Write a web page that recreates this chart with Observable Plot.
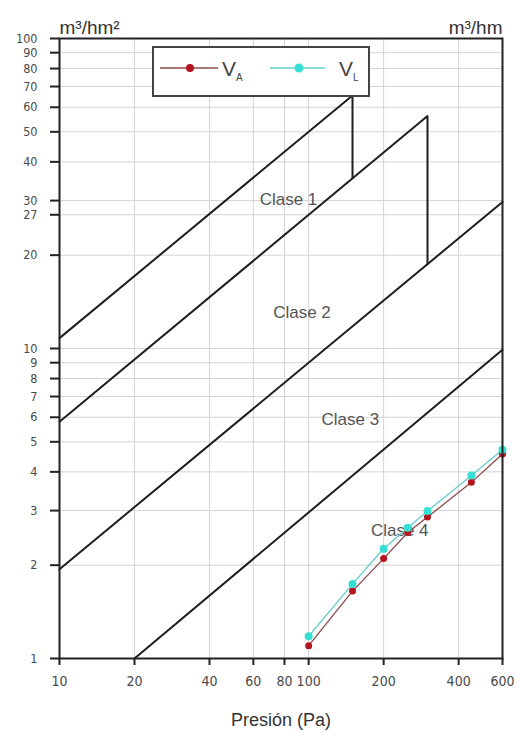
<!DOCTYPE html>
<html>
<head>
<meta charset="utf-8">
<script src="https://cdn.jsdelivr.net/npm/d3@7"></script>
<script src="https://cdn.jsdelivr.net/npm/@observablehq/plot@0.6"></script>
<style>
  html, body { margin: 0; padding: 0; background: #fff; }
  #wrap { position: relative; width: 516px; height: 733px; }
  #legend { position: absolute; left: 152px; top: 46px; }
</style>
</head>
<body>
<div id="wrap"></div>
<script>
// ---- data ----
const xTicks = [10, 20, 40, 60, 80, 100, 200, 400, 600];
const yTicks = [1, 2, 3, 4, 5, 6, 7, 8, 9, 10, 20, 27, 30, 40, 50, 60, 70, 80, 90, 100];

// class boundary lines (pressure Pa, m3/hm2)
const class1P = [10, 150, 150];
const class1V = [10.8, 65.5, 35.4];
const class2P = [10, 300, 300];
const class2V = [5.8, 56.2, 18.7];
const class3P = [10, 600];
const class3V = [1.94, 29.7];
const class4P = [20, 600];
const class4V = [1.0, 9.9];

const classNames = ["Clase 1", "Clase 2", "Clase 3", "Clase 4"];
const classLabelP = [83, 94, 147, 232];
const classLabelV = [30.3, 13.1, 5.9, 2.59];

// measured series
const pressure = [100, 150, 200, 250, 300, 450, 600];
const vA = [1.10, 1.65, 2.10, 2.55, 2.86, 3.70, 4.57];
const vL = [1.18, 1.74, 2.26, 2.64, 2.99, 3.89, 4.71];

const seriesNames = ["V_A", "V_L"];
const seriesLine = ["#8c4a4a", "#66cccc"];
const seriesDot = ["#b3141e", "#35e0d2"];

// ---- build tables ----
const toRows = (P, V) => P.map((p, i) => ({p, v: V[i]}));
const classLines = [toRows(class1P, class1V), toRows(class2P, class2V), toRows(class3P, class3V), toRows(class4P, class4V)];
const labels = classNames.map((name, i) => ({name, p: classLabelP[i], v: classLabelV[i]}));
const rowsA = toRows(pressure, vA);
const rowsL = toRows(pressure, vL);

const tickFont = "'Liberation Sans Narrow', 'DejaVu Sans Condensed', 'Liberation Sans', sans-serif";
const textFont = "'Liberation Sans', Arial, sans-serif";

const chart = Plot.plot({
  width: 516,
  height: 733,
  marginLeft: 59,
  marginRight: 14,
  marginTop: 38,
  marginBottom: 75,
  style: {fontFamily: tickFont, fontSize: "14px", color: "#4a4a4a", background: "transparent", overflow: "visible"},
  x: {type: "log", domain: [10, 600], label: null},
  y: {type: "log", domain: [1, 100], label: null},
  marks: [
    Plot.gridX(xTicks, {stroke: "#d4d4d4", strokeOpacity: 1, strokeWidth: 1}),
    Plot.gridY(yTicks, {stroke: "#d4d4d4", strokeOpacity: 1, strokeWidth: 1}),
    Plot.axisX(xTicks, {tickSize: 7, text: null, stroke: "#222", strokeWidth: 2, label: null}),
    Plot.text(xTicks, {x: d => d, text: d => String(d), frameAnchor: "bottom", lineAnchor: "top", dy: 18, fill: "#4a4a4a", fontSize: 14, fontFamily: tickFont}),
    Plot.axisY(yTicks, {tickSize: 9, tickPadding: 13, tickFormat: d => String(d), stroke: "#222", strokeWidth: 2, label: null, fontSize: 12.5}),
    ...classLines.map(rows => Plot.line(rows, {x: "p", y: "v", stroke: "#1e1e1e", strokeWidth: 2})),
    Plot.text(labels, {x: "p", y: "v", text: "name", fill: "#555", fontSize: 17, fontFamily: textFont}),
    Plot.line(rowsA, {x: "p", y: "v", stroke: seriesLine[0], strokeWidth: 1.3}),
    Plot.line(rowsL, {x: "p", y: "v", stroke: seriesLine[1], strokeWidth: 1.3}),
    Plot.dot(rowsA, {x: "p", y: "v", r: 3.5, fill: seriesDot[0], stroke: "none"}),
    Plot.dot(rowsL, {x: "p", y: "v", r: 4, fill: seriesDot[1], stroke: "none"}),
    Plot.frame({stroke: "#222", strokeWidth: 2}),
    Plot.text(["m³/hm²"], {frameAnchor: "top-left", textAnchor: "start", lineAnchor: "bottom", dy: -5, fontSize: 19, fill: "#333", fontFamily: textFont}),
    Plot.text(["m³/hm"], {frameAnchor: "top-right", textAnchor: "end", lineAnchor: "bottom", dy: -5, fontSize: 19, fill: "#333", fontFamily: textFont}),
    Plot.text(["Presión (Pa)"], {frameAnchor: "bottom", lineAnchor: "bottom", dy: 67, fontSize: 18, fill: "#333", fontFamily: textFont})
  ]
});

const wrap = document.getElementById("wrap");
wrap.appendChild(chart);

// legend (HTML/SVG overlay inside plot area)
const legend = document.createElement("div");
legend.id = "legend";
legend.innerHTML = `
<svg width="220" height="52" style="display:block">
  <rect x="1" y="1" width="216" height="49" fill="#fff" stroke="#444" stroke-width="2"/>
  <line x1="8" y1="22" x2="66" y2="22" stroke="${seriesLine[0]}" stroke-width="1.3"/>
  <circle cx="38" cy="22" r="4" fill="${seriesDot[0]}"/>
  <text x="70" y="30" font-family="Liberation Sans, Arial, sans-serif" font-size="21" fill="#444">V<tspan font-size="10" dy="5">A</tspan></text>
  <line x1="118" y1="22" x2="173" y2="22" stroke="${seriesLine[1]}" stroke-width="1.3"/>
  <circle cx="147" cy="22" r="4.5" fill="${seriesDot[1]}"/>
  <text x="187" y="30" font-family="Liberation Sans, Arial, sans-serif" font-size="21" fill="#444">V<tspan font-size="10" dy="5">L</tspan></text>
</svg>`;
wrap.appendChild(legend);
</script>
</body>
</html>
